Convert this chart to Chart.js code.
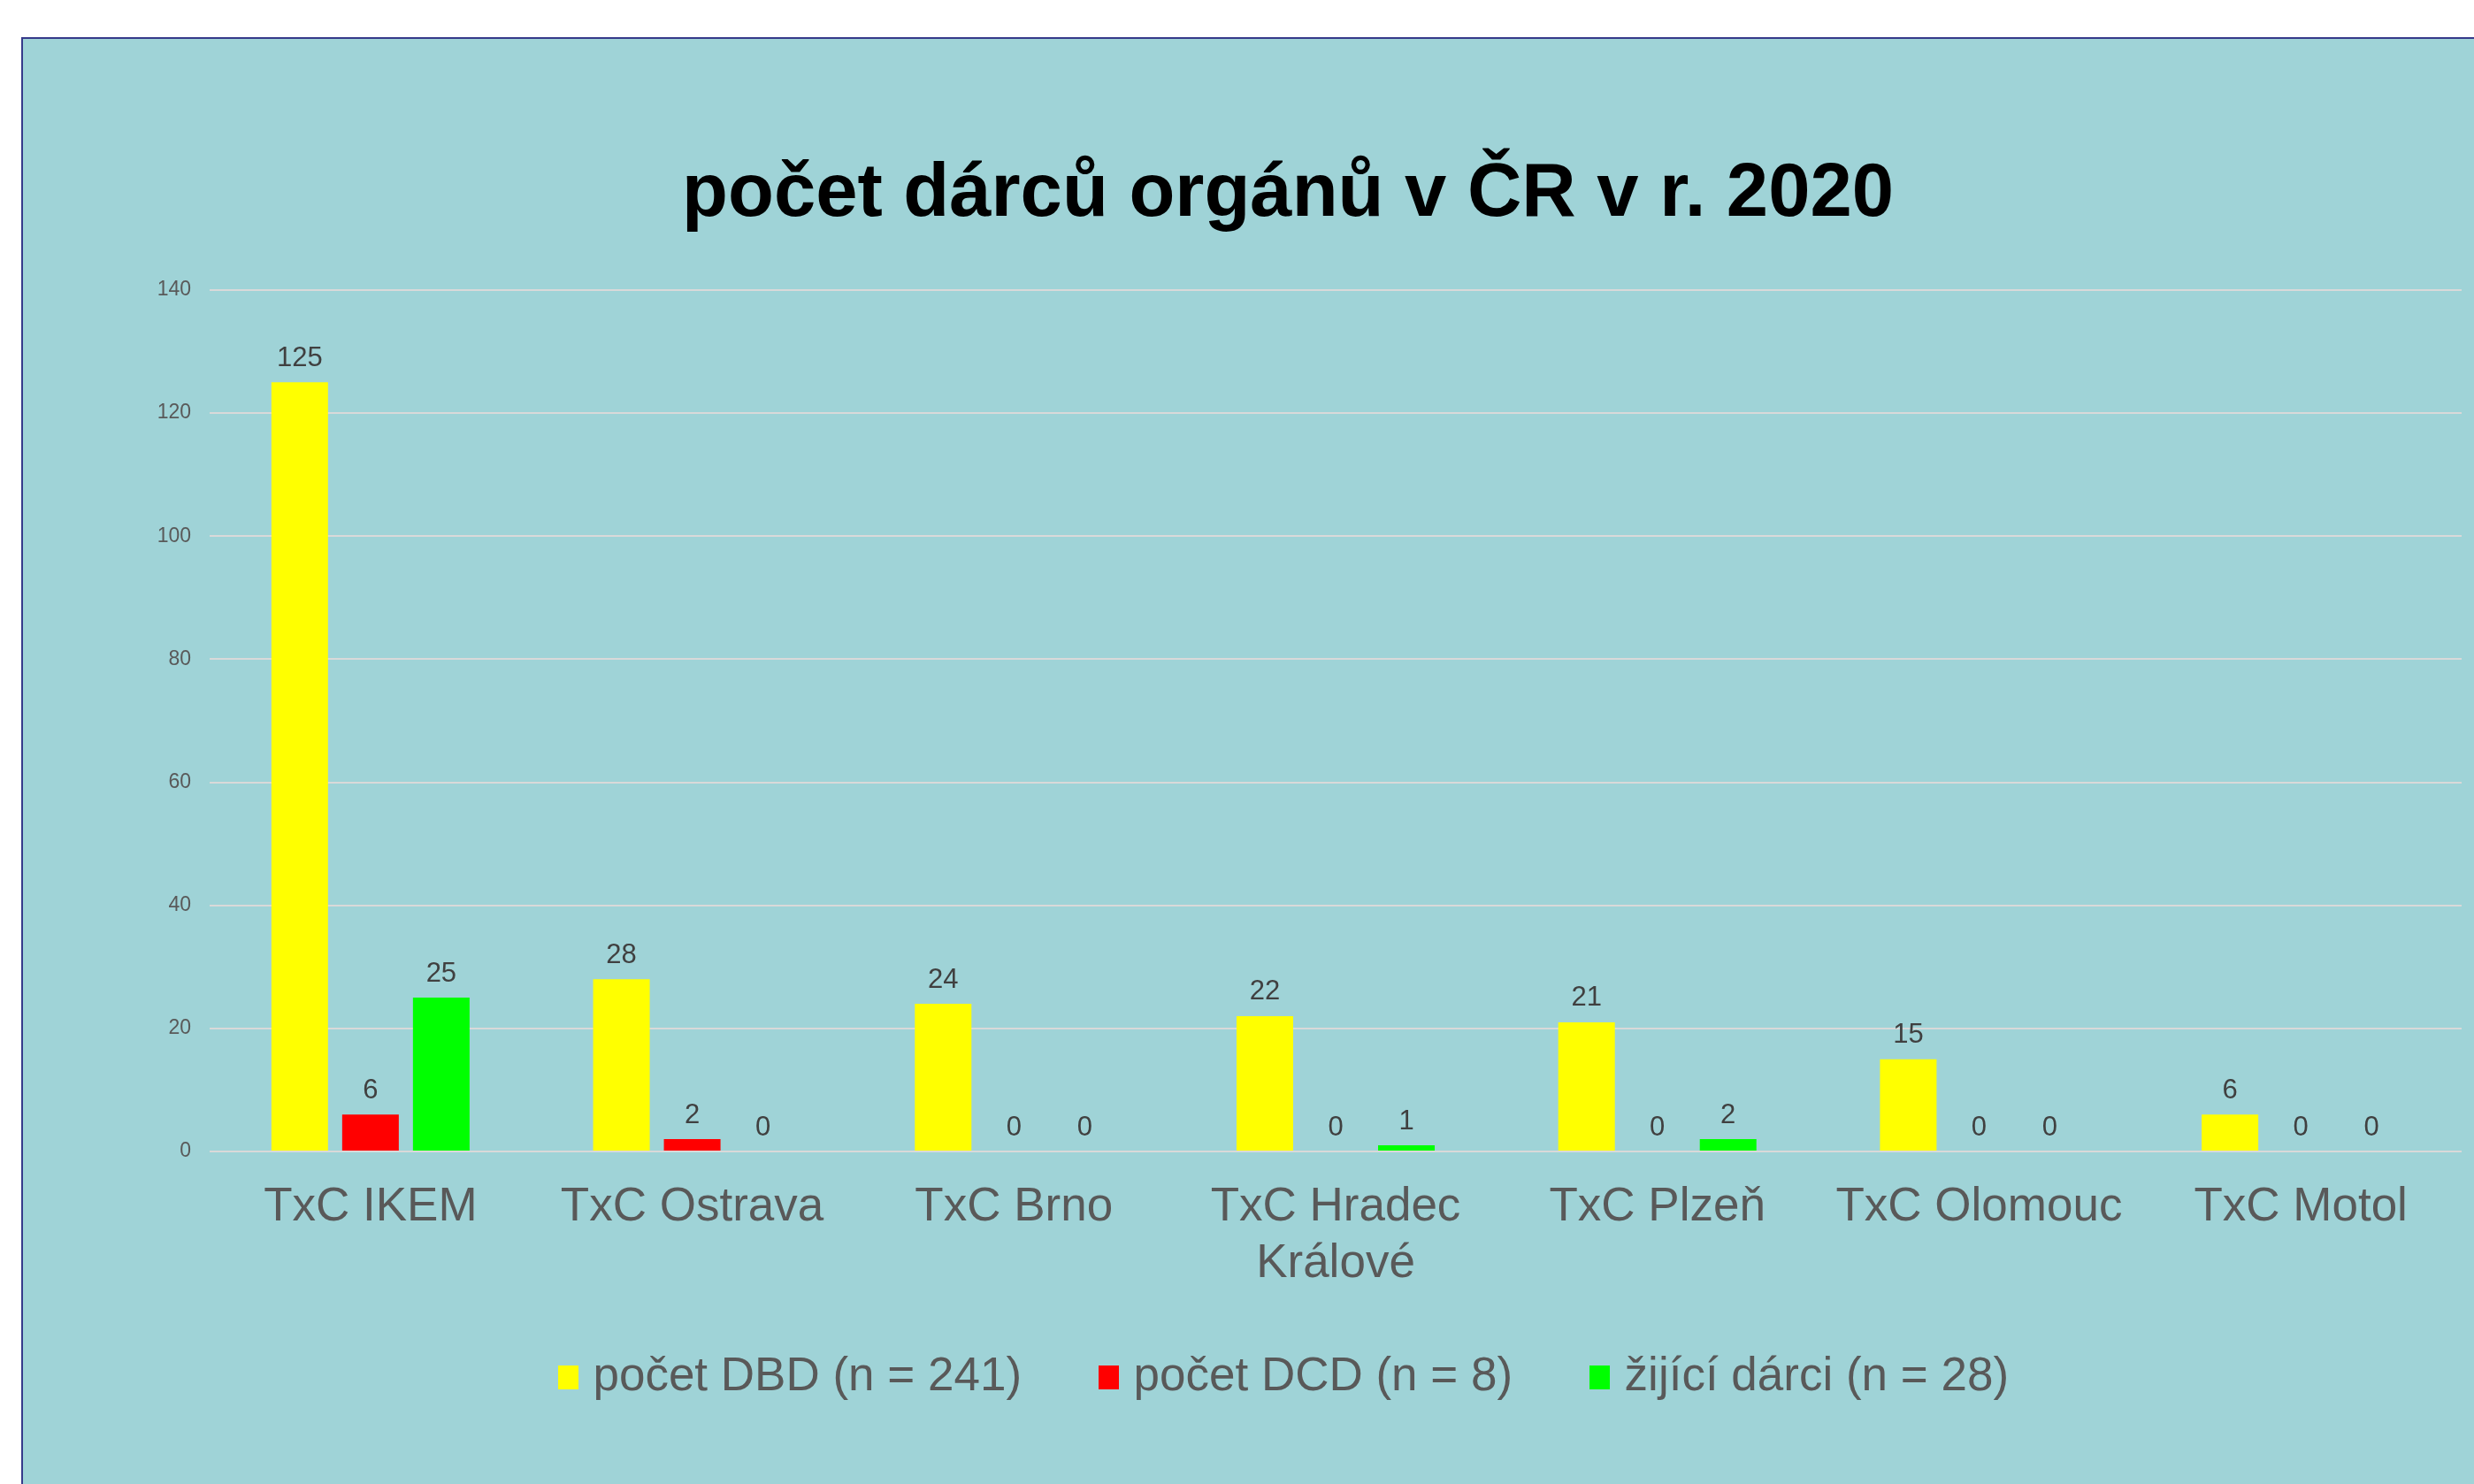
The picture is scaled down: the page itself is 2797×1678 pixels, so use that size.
<!DOCTYPE html>
<html>
<head>
<meta charset="utf-8">
<script src="https://cdn.jsdelivr.net/npm/chart.js@4.4.0/dist/chart.umd.min.js"></script>
<style>
  html, body { margin: 0; padding: 0; background: #ffffff; overflow: hidden; width: 2797px; height: 1678px; }
  #frame { position: absolute; left: 24px; top: 42px; width: 3000px; height: 1800px;
           background: #9fd3d7; border: 2px solid #363a8a; }
  #chartCanvas { position: absolute; left: 0; top: 0; }
</style>
</head>
<body>
<div id="frame"></div>
<canvas id="chartCanvas" width="2912" height="1678"></canvas>
<script>
"use strict";

const centers = ['TxC IKEM', 'TxC Ostrava', 'TxC Brno', ['TxC Hradec', 'Králové'], 'TxC Plzeň', 'TxC Olomouc', 'TxC Motol'];
const dbd = [125, 28, 24, 22, 21, 15, 6];
const dcd = [6, 2, 0, 0, 0, 0, 0];
const living = [25, 0, 0, 1, 2, 0, 0];
const seriesNames = ['počet DBD (n = 241)', 'počet DCD (n = 8)', 'žijící dárci (n = 28)'];
const seriesColors = ['#ffff00', '#ff0000', '#00ff00'];
const yTicks = [0, 20, 40, 60, 80, 100, 120, 140];

const font = "'Liberation Sans', Arial, sans-serif";

// legend swatch, drawn as point style so the text can sit closer to it
function swatch(color) {
    const c = document.createElement('canvas');
    c.width = 23;
    c.height = 27;
    const g = c.getContext('2d');
    g.fillStyle = color;
    g.fillRect(0, 0, 23, 27);
    return c;
}

// simple value labels above each bar
const valueLabels = {
    id: 'valueLabels',
    afterDatasetsDraw(chart) {
        const ctx = chart.ctx;
        ctx.save();
        ctx.font = '31px ' + font;
        ctx.fillStyle = '#404040';
        ctx.textAlign = 'center';
        ctx.textBaseline = 'middle';
        chart.data.datasets.forEach((ds, i) => {
            chart.getDatasetMeta(i).data.forEach((bar, j) => {
                ctx.fillText(String(ds.data[j]), bar.x, bar.y - 27);
            });
        });
        ctx.restore();
    }
};

const ctx = document.getElementById('chartCanvas');

const data = {
    labels: centers,
    datasets: [dbd, dcd, living].map((values, i) => ({
        label: seriesNames[i],
        data: values,
        backgroundColor: seriesColors[i],
        pointStyle: swatch(seriesColors[i])
    }))
};

const config = {
    type: 'bar',
    data: data,
    options: {
        responsive: false,
        devicePixelRatio: 1,
        animation: false,
        categoryPercentage: 0.66,
        barPercentage: 0.8,
        layout: { padding: { left: 0, right: 0, top: 0, bottom: 84 } },
        plugins: {
            title: {
                display: true,
                text: 'počet dárců orgánů v ČR v r. 2020',
                color: '#000000',
                font: { family: font, size: 85, weight: 'bold' },
                padding: { top: 170, bottom: 56 }
            },
            legend: {
                position: 'bottom',
                labels: {
                    color: '#595959',
                    font: { family: font, size: 53 },
                    usePointStyle: true,
                    pointStyleWidth: 3,
                    boxHeight: 27,
                    padding: 97
                }
            },
            tooltip: { enabled: false }
        },
        scales: {
            x: {
                grid: { display: false, drawTicks: false },
                border: { display: false },
                ticks: {
                    color: '#595959',
                    font: { family: font, size: 53 },
                    padding: 32,
                    maxRotation: 0,
                    autoSkip: false
                },
                afterFit(scale) {
                    scale.height = 132;
                    // the two-line label runs a bit into the legend box, so don't clip it
                    scale._computeLabelArea = () => null;
                }
            },
            y: {
                min: 0,
                max: 140,
                afterBuildTicks(scale) { scale.ticks = yTicks.map(v => ({ value: v })); },
                grid: { color: '#d9d9d9', lineWidth: 2, drawTicks: false },
                border: { display: false },
                ticks: {
                    color: '#595959',
                    font: { family: font, size: 23 },
                    padding: 21
                },
                afterFit(scale) { scale.width = 237; }
            },
            // empty space on the right, the original chart runs past the window edge
            yRight: {
                position: 'right',
                grid: { display: false },
                border: { display: false },
                ticks: { display: false },
                afterFit(scale) { scale.width = 129; }
            }
        }
    },
    plugins: [valueLabels]
};

new Chart(ctx, config);
</script>
</body>
</html>
